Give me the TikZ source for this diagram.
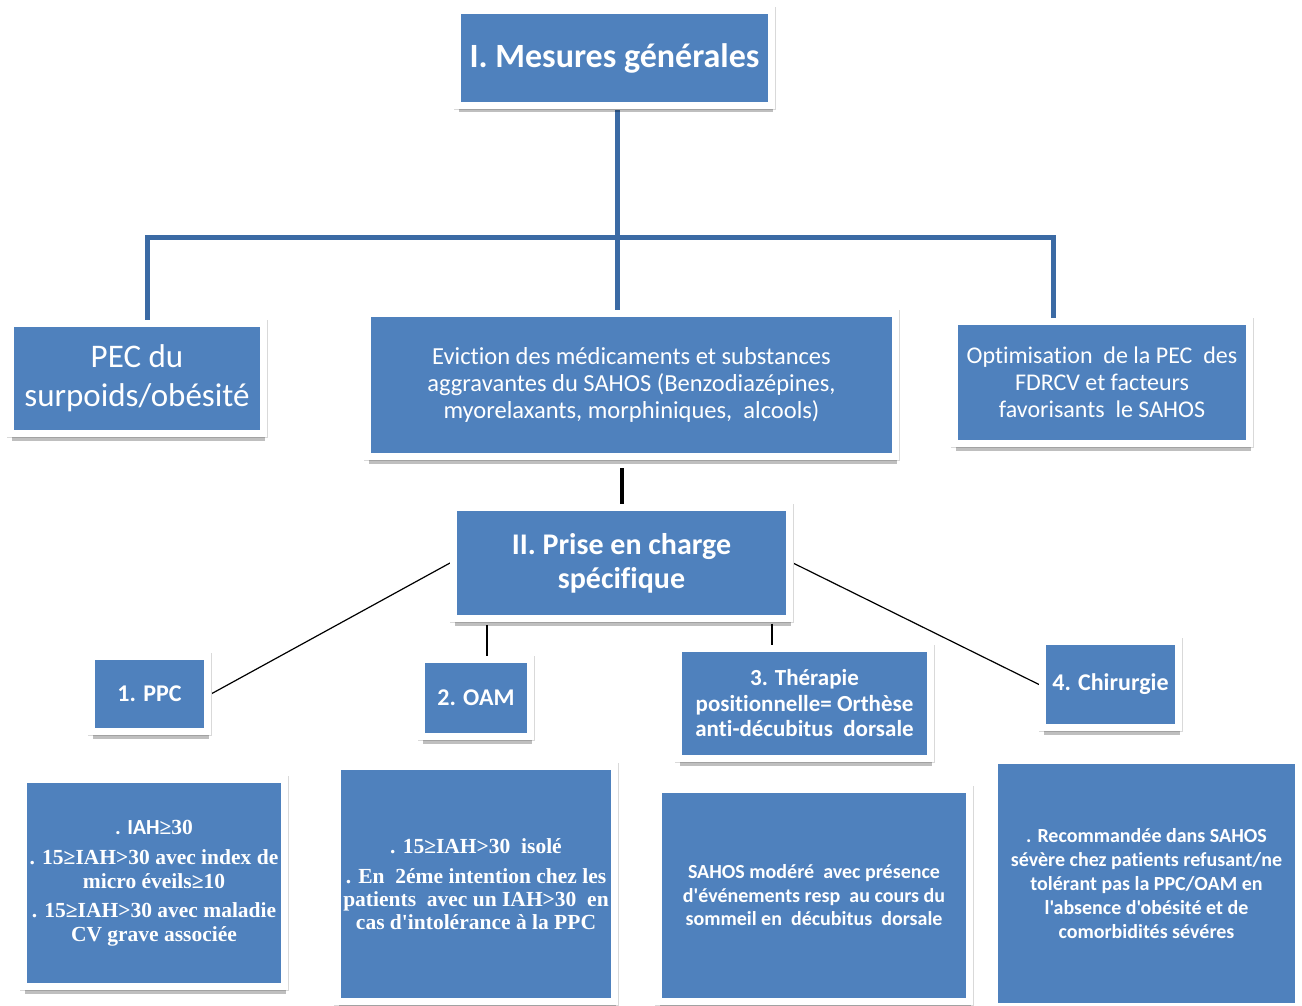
\documentclass[tikz,border=0pt]{standalone}
\usepackage{fontspec}
\setmainfont{Carlito}[Ligatures={TeXOff,CommonOff}]
\newfontfamily\tnr{Liberation Serif}[Ligatures={TeXOff,CommonOff}]
\usetikzlibrary{shadows}
\definecolor{bblue}{HTML}{4F81BD}
\definecolor{tblue}{HTML}{3B6AA4}
\pgfdeclarelayer{bg}\pgfsetlayers{bg,main}
\newcommand\fsz[2]{\fontsize{#1}{#2}\selectfont}
\tikzset{
  bx/.style={fill=bblue, draw=white, line width=7pt, text=white, align=center,
    inner sep=0pt, drop shadow={shadow xshift=1.5pt, shadow yshift=-7pt, opacity=0.25, fill=black},
    append after command={\pgfextra{\draw[black!15, line width=0.8pt]
      (\tikzlastnode.north west) rectangle (\tikzlastnode.south east);}}},
  tree/.style={draw=tblue, line width=5pt},
  lnk/.style={draw=black, line width=1.2pt},
  blk/.style={draw=black, line width=4pt}
}
\begin{document}
\begin{tikzpicture}[x=1pt,y=-1pt]
\begin{pgfonlayer}{bg}
\fill[white] (0,0) rectangle (1302,1006);
\end{pgfonlayer}
\useasboundingbox (0,0) rectangle (1302,1006);

\node[bx, minimum width=314pt, minimum height=95pt, font={\bfseries\fsz{34}{40}}] (m) at (614.5,58) {I. Mesures générales};
\node[bx, minimum width=253pt, minimum height=110pt, font={\fsz{33}{39}}] (pec) at (137,378.5) {PEC du\\surpoids/obésité};
\node[bx, minimum width=528pt, minimum height=143pt, font={\fsz{24.5}{27}}] (ev) at (631.5,385) {Eviction des médicaments et substances\\aggravantes du SAHOS (Benzodiazépines,\\myorelaxants, morphiniques,\ \ alcools)};
\node[bx, minimum width=295pt, minimum height=122pt, font={\fsz{24}{27}}] (opt) at (1102,382.5) {Optimisation\ \ de la PEC\ \ des\\FDRCV et facteurs\\favorisants\ \ le SAHOS};
\node[bx, minimum width=336pt, minimum height=111pt, font={\bfseries\fsz{30}{34}}] (pr) at (621.5,563) {II. Prise en charge\\spécifique};
\node[bx, minimum width=116pt, minimum height=75pt, font={\bfseries\fsz{24}{28}}] (ppc) at (149.5,694) {1. PPC};
\node[bx, minimum width=109pt, minimum height=77pt, font={\bfseries\fsz{24}{28}}] (oam) at (476,698) {2. OAM};
\node[bx, minimum width=252pt, minimum height=110pt, font={\bfseries\fsz{23}{25.5}}] (th) at (804.5,703.5) {3. Thérapie\\positionnelle= Orthèse\\anti-décubitus\ \ dorsale};
\node[bx, minimum width=136pt, minimum height=86pt, font={\bfseries\fsz{24}{28}}] (ch) at (1110.5,684.5) {4. Chirurgie};

\node[bx, minimum width=261pt, minimum height=207pt, font={\tnr\bfseries\fsz{21.5}{23.5}}] (b1) at (154,883)
  {{\rmfamily . IAH}≥30\\[7pt]. 15≥IAH>30 avec index de\\micro éveils≥10\\[6pt]. 15≥IAH>30 avec maladie\\CV grave associée};
\node[bx, minimum width=277pt, minimum height=235pt, font={\tnr\bfseries\fsz{21.5}{23}}] (b2) at (476,884)
  {. 15≥IAH>30\ \ isolé\\[7pt]. En\ \ 2éme intention chez les\\patients\ \ avec un IAH>30\ \ en\\cas d'intolérance à la PPC};
\node[bx, minimum width=311pt, minimum height=212pt, font={\bfseries\fsz{20}{23.5}}] (b3) at (814,895.5)
  {SAHOS modéré\ \ avec présence\\d'événements resp\ \ au cours du\\sommeil en\ \ décubitus\ \ dorsale};
\node[bx, minimum width=304pt, minimum height=246pt, font={\bfseries\fsz{20}{24}}] (b4) at (1146.5,883.5)
  {. Recommandée dans SAHOS\\sévère chez patients refusant/ne\\tolérant pas la PPC/OAM en\\l'absence d'obésité et de\\comorbidités sévéres};

\begin{pgfonlayer}{bg}
  \coordinate (j) at (617,237);
  \draw[tree] (m.south -| j) -- (j);
  \draw[tree] (j) -- (ev.north -| j);
  \draw[tree] ([xshift=10pt]pec.north) -- ([xshift=10pt]pec.north |- j) -- ([xshift=-49pt]opt.north |- j) -- ([xshift=-49pt]opt.north);
  \draw[blk] ([yshift=-8pt]ev.south -| pr.north) -- (pr.north);
  \draw[lnk] (pr.west) -- (ppc.east);
  \draw[lnk] (pr.east) -- (ch.west);
  \draw[lnk] ([xshift=11pt,yshift=31pt]oam.north) -- ([xshift=11pt]oam.north);
  \draw[lnk] ([xshift=-32.5pt,yshift=21.5pt]th.north) -- ([xshift=-32.5pt]th.north);
\end{pgfonlayer}
\end{tikzpicture}
\end{document}
